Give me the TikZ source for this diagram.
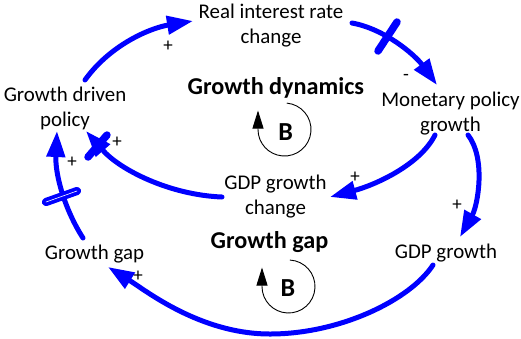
\documentclass[tikz,border=0pt]{standalone}
\usepackage{fontspec}
\setmainfont{Carlito}
\usetikzlibrary{arrows.meta}
\begin{document}
\begin{tikzpicture}[x=1pt,y=-1pt,
  lbl/.style={font=\fontsize{20.9}{25}\selectfont, align=center, inner sep=0pt},
  ttl/.style={font=\fontsize{24.2}{29}\selectfont\bfseries, inner sep=0pt, anchor=base},
  sgn/.style={font=\fontsize{19}{22}\selectfont, inner sep=0pt},
  link/.style={draw=blue, line width=5pt, line cap=round, -{Triangle[length=26pt,width=18pt]}},
  hashs/.style={draw=blue, line width=7.5pt, line cap=round},
  hashd/.style={draw=blue, line width=3.8pt, double=white, double distance=0.6pt, line cap=round},
  loopc/.style={draw=black, line width=0.9pt, -{Triangle[length=18pt,width=11pt]}},
  bee/.style={font=\fontsize{26}{30}\selectfont\bfseries, inner sep=0pt, anchor=base}
]
\useasboundingbox (0,0) rectangle (521,338);

% variables
\node[lbl] (rir) at (271,25.7) {Real interest rate\\change};
\node[lbl] (mpg) at (450.5,113.4) {Monetary policy\\growth};
\node[lbl] (pol) at (65,108) {Growth driven\\policy};
\node[lbl] (gdpc) at (275.5,196.7) {GDP growth\\change};
\node[lbl, anchor=base] (gap) at (94.5,259.3) {Growth gap};
\node[lbl, anchor=base] (gdpg) at (446,258.3) {GDP growth};

% loop titles
\node[ttl] (t1) at (275.8,94.5) {Growth dynamics};
\node[ttl] (t2) at (269.5,248.3) {Growth gap};

% loop symbols
\draw[loopc] (284.5,129.5) ++(85:26.5pt) arc[start angle=85, end angle=-180, radius=26.5pt] -- ++(0,-19);
\node[bee] (b1) at (285.7,140) {B};
\draw[loopc] (288.5,286.5) ++(87:26.5pt) arc[start angle=87, end angle=-180, radius=26.5pt] -- ++(0,-19);
\node[bee] (b2) at (288,296.7) {B};

% connector end points
\coordinate (pol-o) at (85,80);   \coordinate (rir-i) at (193,21);
\coordinate (rir-o) at (352,23);  \coordinate (mpg-i) at (437,85);
\coordinate (mpg-o1) at (435,135); \coordinate (gdpc-i) at (330,197);
\coordinate (mpg-o2) at (468,135); \coordinate (gdpg-i) at (460,237);
\coordinate (gdpg-o) at (433,265); \coordinate (gap-i) at (108,267);
\coordinate (gap-o) at (83,238);  \coordinate (pol-i1) at (57,131);
\coordinate (gdpc-o) at (222,197); \coordinate (pol-i2) at (86,131);

% connectors
\draw[link] (pol-o) .. controls (110,45) and (150,28) .. (rir-i);
\draw[link] (rir-o) .. controls (385,29) and (415,55) .. (mpg-i);
\draw[link] (mpg-o1) .. controls (420,165) and (375,185) .. (gdpc-i);
\draw[link] (mpg-o2) .. controls (486,158) and (478,205) .. (gdpg-i);
\draw[link] (gdpg-o) .. controls (410,300) and (340,334) .. (270,334) .. controls (200,334) and (145,290) .. (gap-i);
\draw[link] (gap-o) .. controls (65,210) and (55,175) .. (pol-i1);
\draw[link] (gdpc-o) .. controls (170,195) and (120,170) .. (pol-i2);

% delay marks
\draw[hashs] (378,51) -- (397,22);
\draw[hashs] (88,157) -- (107,135);
\draw[hashd] (46,202) -- (77,191);

% polarities
\node[sgn] (p1) at (168,46) {+};
\node[sgn] (p2) at (406,77) {-};
\node[sgn] (p3) at (355,177) {+};
\node[sgn] (p4) at (457,205) {+};
\node[sgn] (p5) at (138,276) {+};
\node[sgn] (p6) at (72,162) {+};
\node[sgn] (p7) at (117,142) {+};
\end{tikzpicture}
\end{document}
